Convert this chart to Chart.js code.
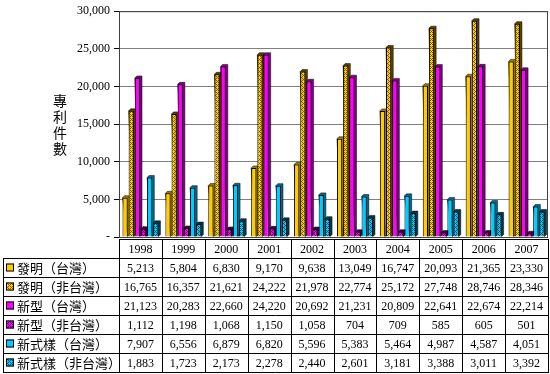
<!DOCTYPE html>
<html>
<head>
    <meta charset="utf-8" />
    <title>專利件數</title>
    <script src="https://cdn.jsdelivr.net/npm/chart.js"></script>
    <style>
        html, body { margin: 0; padding: 0; background: #fff; }
        #wrap { width: 550px; height: 374px; }
    </style>
</head>
<body>
    <div id="wrap"><canvas id="patentChart" width="550" height="374"></canvas></div>

    <script>
        // data
        const years = ['1998', '1999', '2000', '2001', '2002', '2003', '2004', '2005', '2006', '2007'];
        const seriesNames = ['發明（台灣）', '發明（非台灣）', '新型（台灣）', '新型（非台灣）', '新式樣（台灣）', '新式樣（非台灣）'];
        const inventionTw = [5213, 5804, 6830, 9170, 9638, 13049, 16747, 20093, 21365, 23330];
        const inventionForeign = [16765, 16357, 21621, 24222, 21978, 22774, 25172, 27748, 28746, 28346];
        const utilityTw = [21123, 20283, 22660, 24220, 20692, 21231, 20809, 22641, 22674, 22214];
        const utilityForeign = [1112, 1198, 1068, 1150, 1058, 704, 709, 585, 605, 501];
        const designTw = [7907, 6556, 6879, 6820, 5596, 5383, 5464, 4987, 4587, 4051];
        const designForeign = [1883, 1723, 2173, 2278, 2440, 2601, 3181, 3388, 3011, 3392];
        const yTicks = [0, 5000, 10000, 15000, 20000, 25000, 30000];

        const allValues = [inventionTw, inventionForeign, utilityTw, utilityForeign, designTw, designForeign];

        // small checker pattern like the excel fills
        function makePattern(base, dark) {
            const c = document.createElement('canvas');
            c.width = 4; c.height = 4;
            const g = c.getContext('2d');
            g.fillStyle = base;
            g.fillRect(0, 0, 4, 4);
            g.fillStyle = dark;
            [[0, 0], [2, 0], [1, 1], [0, 2], [2, 2], [3, 3]].forEach(p => g.fillRect(p[0], p[1], 1, 1));
            return g.createPattern(c, 'repeat');
        }

        const fills = [
            '#FFCC00',
            makePattern('#FFCC00', '#7a5a00'),
            '#FF00FF',
            makePattern('#FF00FF', '#5a0060'),
            '#00CCFF',
            makePattern('#00CCFF', '#00506a')
        ];
        const sideColors = ['#9a7a00', '#5a4000', '#800080', '#400040', '#006a8a', '#003a4a'];

        const fmt = v => v.toLocaleString('en-US');

        // 3d-ish side and top faces behind the bars
        const depthPlugin = {
            id: 'depth',
            beforeDatasetsDraw(chart) {
                const ctx = chart.ctx;
                const d = 2;
                chart.data.datasets.forEach((ds, i) => {
                    chart.getDatasetMeta(i).data.forEach(bar => {
                        const r = bar.x + bar.width / 2;
                        const l = bar.x - bar.width / 2;
                        ctx.fillStyle = sideColors[i];
                        ctx.strokeStyle = '#000';
                        ctx.lineWidth = 0.5;
                        ctx.beginPath();
                        ctx.moveTo(l, bar.y);
                        ctx.lineTo(l + d, bar.y - d);
                        ctx.lineTo(r + d, bar.y - d);
                        ctx.lineTo(r + d, bar.base - d);
                        ctx.lineTo(r, bar.base);
                        ctx.closePath();
                        ctx.fill();
                        ctx.stroke();
                    });
                });
            }
        };

        // data table under the plot + y axis title
        const tablePlugin = {
            id: 'table',
            afterDraw(chart) {
                const ctx = chart.ctx;
                const x = chart.scales.x;
                const area = chart.chartArea;
                const left = 3, right = area.right;
                const top = 239, rowH = 19;
                const nRows = seriesNames.length;
                const step = (area.right - area.left) / years.length;

                ctx.save();
                // frame of the plot
                ctx.strokeStyle = '#404040';
                ctx.lineWidth = 1;
                ctx.strokeRect(area.left + 0.5, area.top + 0.5, area.right - area.left - 1, area.bottom - area.top);

                ctx.strokeStyle = '#000';
                ctx.lineWidth = 1;
                // header row lines
                ctx.beginPath();
                ctx.moveTo(area.left, top + 0.5);
                ctx.lineTo(right, top + 0.5);
                for (let r = 1; r <= nRows + 1; r++) {
                    const y = top + r * rowH + 0.5;
                    ctx.moveTo(left, y);
                    ctx.lineTo(right, y);
                }
                // vertical lines
                ctx.moveTo(left + 0.5, top + rowH);
                ctx.lineTo(left + 0.5, top + (nRows + 1) * rowH + 1);
                for (let c = 0; c <= years.length; c++) {
                    const xx = Math.round(area.left + c * step) + 0.5;
                    ctx.moveTo(xx, top);
                    ctx.lineTo(xx, top + (nRows + 1) * rowH + 1);
                }
                ctx.stroke();

                ctx.fillStyle = '#000';
                ctx.textBaseline = 'middle';
                ctx.textAlign = 'center';
                ctx.font = '12px "Liberation Serif", "Times New Roman", serif';
                years.forEach((yr, c) => {
                    ctx.fillText(yr, x.getPixelForValue(c), top + rowH / 2 + 1);
                });
                allValues.forEach((vals, r) => {
                    const cy = top + (r + 1) * rowH + rowH / 2 + 1;
                    vals.forEach((v, c) => {
                        ctx.fillText(fmt(v), x.getPixelForValue(c), cy);
                    });
                });

                // legend keys and row names
                ctx.textAlign = 'left';
                ctx.font = '13px "Noto Sans CJK TC", sans-serif';
                seriesNames.forEach((name, r) => {
                    const cy = top + (r + 1) * rowH + rowH / 2;
                    ctx.fillStyle = fills[r];
                    ctx.fillRect(6, cy - 4, 8, 8);
                    ctx.strokeStyle = '#000';
                    ctx.strokeRect(6.5, cy - 3.5, 7, 7);
                    ctx.fillStyle = '#000';
                    ctx.fillText(name, 17, cy + 1);
                });

                // y axis title, stacked characters
                ctx.textAlign = 'center';
                ctx.font = '14px "Noto Sans CJK TC", sans-serif';
                ['專', '利', '件', '數'].forEach((ch, i) => {
                    ctx.fillText(ch, 60, 101 + i * 16);
                });
                ctx.restore();
            }
        };

        const ctx = document.getElementById('patentChart').getContext('2d');
        const patentChart = new Chart(ctx, {
            type: 'bar',
            data: {
                labels: years,
                datasets: seriesNames.map((name, i) => ({
                    label: name,
                    data: allValues[i],
                    backgroundColor: fills[i],
                    borderColor: '#000',
                    borderWidth: 1,
                    barPercentage: 0.85,
                    categoryPercentage: 0.86
                }))
            },
            options: {
                responsive: false,
                animation: false,
                layout: { padding: { top: 6, right: 2, bottom: 137, left: 0 } },
                plugins: {
                    legend: { display: false },
                    tooltip: { enabled: false }
                },
                scales: {
                    x: {
                        display: false,
                        grid: { display: false }
                    },
                    y: {
                        min: 0,
                        max: 30000,
                        afterBuildTicks: axis => { axis.ticks = yTicks.map(v => ({ value: v })); },
                        afterFit: axis => { axis.width = 119; },
                        grid: {
                            color: '#808080',
                            tickColor: '#000',
                            tickLength: 5
                        },
                        border: { color: '#000' },
                        ticks: {
                            color: '#000',
                            padding: 4,
                            font: { family: '"Liberation Serif", "Times New Roman", serif', size: 12 },
                            callback: v => v === 0 ? '-' : fmt(v)
                        }
                    }
                }
            },
            plugins: [depthPlugin, tablePlugin]
        });
    </script>
</body>
</html>
